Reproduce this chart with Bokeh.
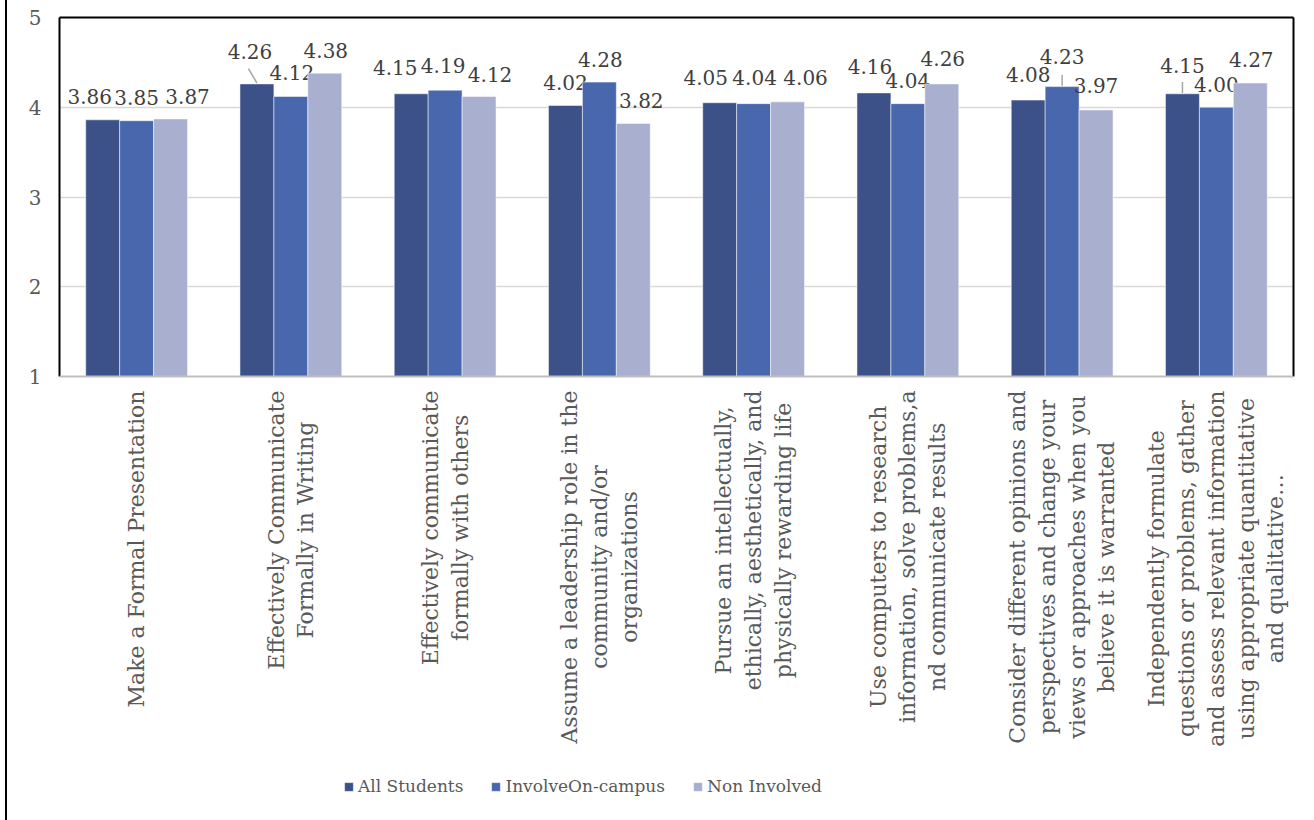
import math
from bokeh.plotting import figure
from bokeh.models import (ColumnDataSource, Range1d, FixedTicker, Legend,
                          LegendItem, Div, FactorRange, Label, Span,
                          LinearAxis, CategoricalAxis)
from bokeh.transform import dodge
from bokeh.layouts import row
from bokeh.embed import file_html
from bokeh.resources import INLINE
from bokeh.core.properties import value

# ---------------- data ----------------
categories = [
    "Make a Formal Presentation",
    "Effectively Communicate\nFormally in Writing",
    "Effectively communicate\nformally with others",
    "Assume a leadership role in the\ncommunity and/or\norganizations",
    "Pursue an intellectually,\nethically, aesthetically, and\nphysically rewarding life",
    "Use computers to research\ninformation, solve problems,a\nnd communicate results",
    "Consider different opinions and\nperspectives and change your\nviews or approaches when you\nbelieve it is warranted",
    "Independently formulate\nquestions or problems, gather\nand assess relevant information\nusing appropriate quantitative\nand qualitative\u2026",
]
series_names = ["All Students", "InvolveOn-campus", "Non Involved"]
all_students = [3.86, 4.26, 4.15, 4.02, 4.05, 4.16, 4.08, 4.15]
involve_on_campus = [3.85, 4.12, 4.19, 4.28, 4.04, 4.04, 4.23, 4.00]
non_involved = [3.87, 4.38, 4.12, 3.82, 4.06, 4.26, 3.97, 4.27]
y_ticks = [1, 2, 3, 4, 5]

# ---------------- styles ----------------
colors = ["#3D5189", "#4967AD", "#A9B0CF"]
dodges = [-0.22, 0.0, 0.22]
bar_w = 0.22
FONT = "DejaVu Serif"
# data-label nudges in pixels (x right, y down), per series
nudge_x = [
    [-13, -7, -16, 0, -14, -4, 0, 0],
    [0, 1, -2, 1, 1, 0, 0, 0],
    [17, 1, 11, 8, 18, 1, 0, 1],
]
nudge_y = [
    [-23, -32, -26, -23, -25, -26, -26, -28],
    [-23, -24, -25, -23, -26, -23, -30, -23],
    [-22, -23, -22, -23, -24, -25, -24, -24],
]
# leader lines: (series index, category index, x shift of top end, length)
leaders = [(0, 1, -0.055, 0.17), (1, 6, 0.0, 0.13), (0, 7, 0.0, 0.13)]

series_values = [all_students, involve_on_campus, non_involved]

# layout: value axis spans 359 px (1..5); the frame continues 444 px below
# the value 1 so the category labels and legend live inside it.
PX_PER_UNIT = 359 / (y_ticks[-1] - y_ticks[0])
y_start = y_ticks[0] - 444 / PX_PER_UNIT

p = figure(
    x_range=FactorRange(*categories, range_padding=0),
    y_range=Range1d(y_start, y_ticks[-1]),
    width=1307, height=820,
    output_backend="svg", toolbar_location=None,
    min_border_left=52, min_border_right=21, min_border_top=17,
    min_border_bottom=0,
)
p.outline_line_color = None
p.background_fill_color = "white"
p.border_fill_color = "white"
p.xaxis.visible = False

p.xgrid.grid_line_color = None
p.ygrid.grid_line_color = "#D9D9D9"
p.ygrid.grid_line_width = 1.5
p.yaxis.ticker = FixedTicker(ticks=y_ticks)
p.ygrid.ticker = FixedTicker(ticks=y_ticks[1:-1])

p.yaxis.bounds = (y_ticks[0], y_ticks[-1])
p.yaxis.axis_line_color = "black"
p.yaxis.axis_line_width = 2
p.yaxis.major_tick_line_color = None
p.yaxis.minor_tick_line_color = None
p.yaxis.major_label_standoff = 12
p.yaxis.major_label_text_font = FONT
p.yaxis.major_label_text_font_size = "20px"
p.yaxis.major_label_text_color = "#595959"

# right and top frame edges
right_ax = LinearAxis(bounds=(y_ticks[0], y_ticks[-1]), ticker=FixedTicker(ticks=[]),
                      axis_line_color="black", axis_line_width=2,
                      major_tick_line_color=None, minor_tick_line_color=None,
                      major_label_text_font_size="0px")
p.add_layout(right_ax, "right")
top_ax = CategoricalAxis(axis_line_color="black", axis_line_width=2,
                         major_tick_line_color=None, minor_tick_line_color=None,
                         major_label_text_font_size="0px",
                         major_label_text_color=None, major_label_standoff=0)
p.add_layout(top_ax, "above")

# category axis base line
p.add_layout(Span(location=y_ticks[0], dimension="width",
                  line_color="#BFBFBF", line_width=2))

# category labels: rotated, lines centred, block hanging from the base line
for i, cat in enumerate(categories):
    p.add_layout(Label(
        x=i + 0.5, y=y_ticks[0], y_offset=-14, text=cat, angle=math.pi / 2,
        anchor="center_right", text_align="center",
        text_font=FONT, text_font_size="22px", text_color="#595959",
        text_line_height=1.19,
    ))

items = []
for i, (name, vals) in enumerate(zip(series_names, series_values)):
    src = ColumnDataSource(dict(
        cat=categories, val=vals,
        label=["%.2f" % v for v in vals],
        nx=nudge_x[i], ny=nudge_y[i],
    ))
    r = p.vbar(x=dodge("cat", dodges[i], range=p.x_range), top="val",
               bottom=y_ticks[0], width=bar_w, source=src, fill_color=colors[i],
               line_color="white", line_alpha=0.5, line_width=1)
    p.text(x=dodge("cat", dodges[i], range=p.x_range), y="val", text="label",
           x_offset="nx", y_offset="ny", source=src,
           text_align="center", text_baseline="middle",
           text_font=value(FONT), text_font_size="20px", text_color="#404040")
    items.append(LegendItem(label=name, renderers=[r]))

for si, ci, xs, ln in leaders:
    v = series_values[si][ci]
    lsrc = ColumnDataSource(dict(cat=[categories[ci]], y0=[v + 0.01], y1=[v + ln]))
    p.segment(x0=dodge("cat", dodges[si], range=p.x_range), y0="y0",
              x1=dodge("cat", dodges[si] + xs, range=p.x_range), y1="y1",
              source=lsrc, line_color="#A6A6A6", line_width=1.5)

legend = Legend(items=items, orientation="horizontal", location=(284, 24))
legend.label_text_font = FONT
legend.label_text_font_size = "17px"
legend.label_text_color = "#595959"
legend.glyph_width = 11
legend.glyph_height = 11
legend.label_standoff = 4
legend.spacing = 27
legend.border_line_color = None
legend.background_fill_alpha = 0
legend.padding = 0
legend.margin = 0
p.add_layout(legend, "center")

spacer = Div(width=5, height=820, margin=0, styles={"background-color": "white"})
border = Div(width=2, height=820, margin=0, styles={"background-color": "black"})
layout = row(spacer, border, p, spacing=0)

open("out.html", "w").write(file_html(layout, INLINE))
